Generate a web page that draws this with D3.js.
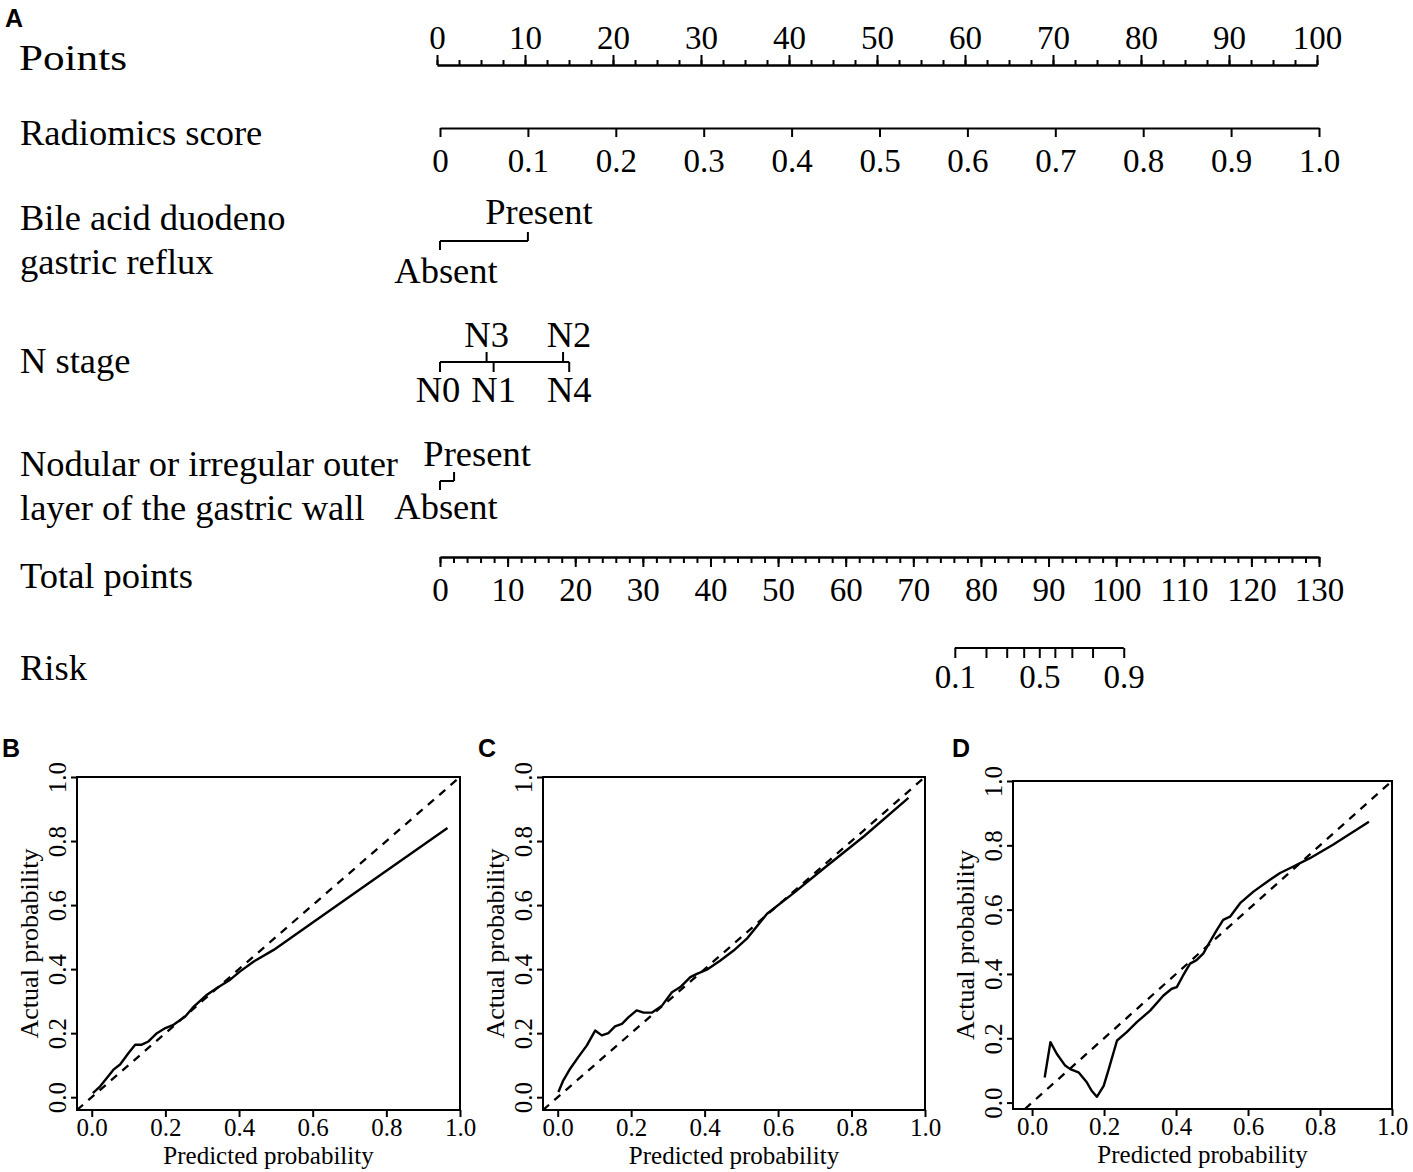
<!DOCTYPE html>
<html>
<head>
<meta charset="utf-8">
<script src="https://cdn.jsdelivr.net/npm/d3@7"></script>
<style>
  body { margin: 0; background: #fff; }
  svg text { font-family: "Liberation Serif", "Times New Roman", serif; fill: #000; }
  .panel-tag { font-family: "Liberation Sans", Arial, sans-serif; font-weight: bold; }
</style>
</head>
<body>
<svg id="fig" width="1413" height="1172"></svg>
<script>
"use strict";
(function(){

// ---- nomogram values ----
var pointsTicks = d3.range(0, 101, 10);
var pointsMinor = d3.range(0, 100.1, 2.5);

var radiomicsTicks = [0, 0.1, 0.2, 0.3, 0.4, 0.5, 0.6, 0.7, 0.8, 0.9, 1.0];
var radiomicsLabels = ["0", "0.1", "0.2", "0.3", "0.4", "0.5", "0.6", "0.7", "0.8", "0.9", "1.0"];
var radiomicsMaxPoints = 100;

var bileLevels = ["Absent", "Present"];
var bilePoints = [0, 10];

var nLevels = ["N0", "N1", "N2", "N3", "N4"];
var nPoints = [0, 6.1, 14.0, 5.3, 14.7];

var nodularLevels = ["Absent", "Present"];
var nodularPoints = [0, 1.6];

var totalTicks = d3.range(0, 131, 10);
var totalMinor = d3.range(0, 130.1, 2);

var riskTicks = [0.1, 0.2, 0.3, 0.4, 0.5, 0.6, 0.7, 0.8, 0.9];
var riskLabelled = [0.1, 0.5, 0.9];
// linear predictor = riskB0 + riskB1 * total points
var riskB0 = -15.59;
var riskB1 = 0.1759;

// ---- calibration curves ----
var calBPred = [0.003, 0.023, 0.041, 0.059, 0.077, 0.10, 0.118, 0.136, 0.154, 0.177, 0.20, 0.222, 0.254, 0.277, 0.313, 0.34, 0.376, 0.403, 0.44, 0.494, 0.603, 0.748, 0.966];
var calBObs  = [0.013, 0.034, 0.060, 0.086, 0.102, 0.138, 0.164, 0.164, 0.174, 0.200, 0.216, 0.226, 0.252, 0.283, 0.320, 0.341, 0.367, 0.393, 0.424, 0.460, 0.548, 0.665, 0.841];

var calCPred = [0.002, 0.015, 0.034, 0.056, 0.079, 0.097, 0.102, 0.12, 0.138, 0.156, 0.175, 0.193, 0.215, 0.234, 0.256, 0.284, 0.311, 0.334, 0.361, 0.379, 0.406, 0.443, 0.479, 0.515, 0.57, 0.643, 0.725, 0.834, 0.955];
var calCObs  = [0.016, 0.052, 0.089, 0.125, 0.161, 0.198, 0.208, 0.193, 0.200, 0.221, 0.229, 0.250, 0.271, 0.264, 0.264, 0.286, 0.328, 0.344, 0.375, 0.385, 0.398, 0.427, 0.458, 0.495, 0.573, 0.638, 0.715, 0.815, 0.935];

var calDPred = [0.035, 0.051, 0.069, 0.092, 0.106, 0.129, 0.152, 0.166, 0.18, 0.199, 0.213, 0.236, 0.263, 0.291, 0.328, 0.365, 0.388, 0.402, 0.42, 0.439, 0.457, 0.476, 0.494, 0.513, 0.531, 0.55, 0.578, 0.615, 0.661, 0.689, 0.726, 0.772, 0.836, 0.936];
var calDObs  = [0.078, 0.188, 0.151, 0.115, 0.104, 0.094, 0.063, 0.036, 0.018, 0.052, 0.104, 0.193, 0.219, 0.250, 0.286, 0.333, 0.354, 0.359, 0.396, 0.432, 0.443, 0.464, 0.500, 0.536, 0.568, 0.578, 0.620, 0.656, 0.693, 0.714, 0.734, 0.760, 0.802, 0.873];

var calTicks = [0, 0.2, 0.4, 0.6, 0.8, 1.0];

var svg = d3.select('#fig');

var labelSize = 36.5;
var tickSize = 33;
var calFont = 25;

// ---- scales ----
var pointsAxisX = d3.scaleLinear().domain([0, 100]).range([437, 1317]);
var varX = d3.scaleLinear().domain([0, 100]).range([440, 1319]);
var radX = d3.scaleLinear().domain([0, 1]).range([varX(0), varX(radiomicsMaxPoints)]);
var totalX = d3.scaleLinear().domain([0, 130]).range([440, 1319]);
var riskX = d3.scaleLinear()
              .domain([riskB0, riskB0 + riskB1 * 130])
              .range(totalX.range());
function logit(p){ return Math.log(p / (1 - p)); }

function styleAxis(g, fontSize){
  g.selectAll('path, line').attr('stroke', '#000').attr('stroke-width', 2);
  g.selectAll('text').attr('font-size', fontSize);
  g.attr('font-family', null);
}

function rowLabel(lines, y0, gap){
  lines.forEach(function(t, i){
    svg.append('text')
       .attr('x', 20).attr('y', y0 + i * gap)
       .attr('font-size', labelSize)
       .text(t);
  });
}

svg.append('text').attr('class', 'panel-tag')
   .attr('x', 5).attr('y', 27).attr('font-size', 25).text('A');

// Points
svg.append('text')
   .attr('x', 19).attr('y', 70)
   .attr('font-size', 35)
   .attr('textLength', 108).attr('lengthAdjust', 'spacingAndGlyphs')
   .text('Points');

var gPts = svg.append('g').attr('transform', 'translate(0,65)');
gPts.call(d3.axisTop(pointsAxisX).tickValues(pointsMinor).tickSize(5).tickSizeOuter(0).tickFormat(''));
gPts.call(function(g){
  g.append('g').call(d3.axisTop(pointsAxisX).tickValues(pointsTicks).tickSize(10).tickSizeOuter(0).tickFormat(d3.format('d')));
});
styleAxis(gPts, tickSize);
gPts.selectAll('text').attr('y', -16).attr('dy', null);

// Radiomics score
rowLabel(['Radiomics score'], 145, 0);
var gRad = svg.append('g').attr('transform', 'translate(0,128)');
gRad.call(d3.axisBottom(radX).tickValues(radiomicsTicks).tickSize(9).tickSizeOuter(0)
           .tickFormat(function(d, i){ return radiomicsLabels[i]; }));
styleAxis(gRad, tickSize);
gRad.selectAll('text').attr('y', 44).attr('dy', null);

// categorical rows; nudge = horizontal label shift as laid out in the figure
function catRow(levels, pts, yLine, aboveBase, belowBase, tickLen, nudge){
  var g = svg.append('g');
  var order = d3.range(levels.length).sort(function(a, b){ return pts[a] - pts[b]; });
  var side = {};
  order.forEach(function(k, j){ side[k] = (j % 2 === 0) ? 'below' : 'above'; });
  g.append('line')
   .attr('x1', varX(d3.min(pts))).attr('x2', varX(d3.max(pts)))
   .attr('y1', yLine).attr('y2', yLine)
   .attr('stroke', '#000').attr('stroke-width', 2);
  var items = g.selectAll('.lvl').data(levels).enter().append('g').attr('class', 'lvl');
  items.append('line')
   .attr('x1', function(d, i){ return varX(pts[i]); })
   .attr('x2', function(d, i){ return varX(pts[i]); })
   .attr('y1', yLine)
   .attr('y2', function(d, i){ return side[i] === 'above' ? yLine - tickLen : yLine + tickLen; })
   .attr('stroke', '#000').attr('stroke-width', 2);
  items.append('text')
   .attr('x', function(d, i){ return varX(pts[i]) + (nudge[i] || 0); })
   .attr('y', function(d, i){ return side[i] === 'above' ? aboveBase : belowBase; })
   .attr('text-anchor', 'middle')
   .attr('font-size', labelSize)
   .text(function(d){ return d; });
}

rowLabel(['Bile acid duodeno', 'gastric reflux'], 230, 44);
catRow(bileLevels, bilePoints, 241, 224, 283, 9, [6, 11]);

rowLabel(['N stage'], 373, 0);
catRow(nLevels, nPoints, 362, 347, 402, 10, [-2, 0, 6, 0, 0]);

rowLabel(['Nodular or irregular outer', 'layer of the gastric wall'], 476, 44);
catRow(nodularLevels, nodularPoints, 481, 466, 519, 9, [6, 23]);

// Total points
rowLabel(['Total points'], 588, 0);
var gTot = svg.append('g').attr('transform', 'translate(0,557)');
gTot.call(d3.axisBottom(totalX).tickValues(totalMinor).tickSize(6).tickSizeOuter(0).tickFormat(''));
gTot.call(function(g){
  g.append('g').call(d3.axisBottom(totalX).tickValues(totalTicks).tickSize(10).tickSizeOuter(0).tickFormat(d3.format('d')));
});
styleAxis(gTot, tickSize);
gTot.selectAll('text').attr('y', 44).attr('dy', null);

// Risk
rowLabel(['Risk'], 680, 0);
var riskLp = riskTicks.map(logit);
var gRisk = svg.append('g').attr('transform', 'translate(0,648)');
gRisk.call(d3.axisBottom(riskX).tickValues(riskLp).tickSize(10).tickSizeOuter(0)
            .tickFormat(function(d, i){
              var r = riskTicks[i];
              return riskLabelled.indexOf(r) >= 0 ? d3.format('.1f')(r) : '';
            }));
gRisk.select('.domain').remove();
gRisk.append('line')
     .attr('x1', riskX(d3.min(riskLp))).attr('x2', riskX(d3.max(riskLp)))
     .attr('y1', 0).attr('y2', 0);
styleAxis(gRisk, tickSize);
gRisk.selectAll('text').attr('y', 40).attr('dy', null);

// ---- calibration panels ----
function calPanel(tag, tagX, box, xDom, yDom, pred, obs){
  var x = d3.scaleLinear().domain(xDom).range([box.left, box.right]);
  var y = d3.scaleLinear().domain(yDom).range([box.bottom, box.top]);
  var g = svg.append('g');
  var clipId = 'clip' + tag;
  g.append('clipPath').attr('id', clipId).append('rect')
   .attr('x', box.left).attr('y', box.top)
   .attr('width', box.right - box.left).attr('height', box.bottom - box.top);

  svg.append('text').attr('class', 'panel-tag')
     .attr('x', tagX).attr('y', 757).attr('font-size', 25).text(tag);

  var lo = Math.max(xDom[0], yDom[0]);
  g.append('line')
   .attr('clip-path', 'url(#' + clipId + ')')
   .attr('x1', x(lo)).attr('y1', y(lo))
   .attr('x2', x(1)).attr('y2', y(1))
   .attr('stroke', '#000').attr('stroke-width', 2.3)
   .attr('stroke-dasharray', '8,7');

  var pts = pred.map(function(p, i){ return [p, obs[i]]; });
  g.append('path')
   .datum(pts)
   .attr('fill', 'none').attr('stroke', '#000').attr('stroke-width', 2.4)
   .attr('stroke-linejoin', 'round')
   .attr('d', d3.line().x(function(d){ return x(d[0]); }).y(function(d){ return y(d[1]); }));

  g.append('rect')
   .attr('x', box.left).attr('y', box.top)
   .attr('width', box.right - box.left).attr('height', box.bottom - box.top)
   .attr('fill', 'none').attr('stroke', '#000').attr('stroke-width', 2);

  var ax = g.append('g').attr('transform', 'translate(0,' + box.bottom + ')')
            .call(d3.axisBottom(x).tickValues(calTicks).tickSize(7).tickSizeOuter(0).tickFormat(d3.format('.1f')));
  ax.select('.domain').remove();
  styleAxis(ax, calFont);
  ax.selectAll('text').attr('y', 26).attr('dy', null);

  var ay = g.append('g').attr('transform', 'translate(' + box.left + ',0)')
            .call(d3.axisLeft(y).tickValues(calTicks).tickSize(6).tickSizeOuter(0).tickFormat(d3.format('.1f')));
  ay.select('.domain').remove();
  styleAxis(ay, calFont);
  ay.selectAll('text')
    .attr('x', 0).attr('dy', null).attr('y', -11)
    .attr('text-anchor', 'middle')
    .attr('transform', 'rotate(-90)');

  g.append('text')
   .attr('x', (box.left + box.right) / 2).attr('y', box.bottom + 54)
   .attr('text-anchor', 'middle').attr('font-size', calFont)
   .text('Predicted probability');
  g.append('text')
   .attr('transform', 'translate(' + (box.left - 39) + ',' + ((box.top + box.bottom) / 2) + ') rotate(-90)')
   .attr('text-anchor', 'middle').attr('font-size', 26)
   .text('Actual probability');
}

calPanel('B', 2, {left: 77, right: 460, top: 777, bottom: 1110}, [-0.04, 1.0], [-0.04, 1.0], calBPred, calBObs);
calPanel('C', 478, {left: 543, right: 925, top: 777, bottom: 1110}, [-0.04, 1.0], [-0.04, 1.0], calCPred, calCObs);
calPanel('D', 952, {left: 1013, right: 1392, top: 781, bottom: 1109}, [-0.053, 1.0], [-0.02, 1.0], calDPred, calDObs);

})();
</script>
</body>
</html>
